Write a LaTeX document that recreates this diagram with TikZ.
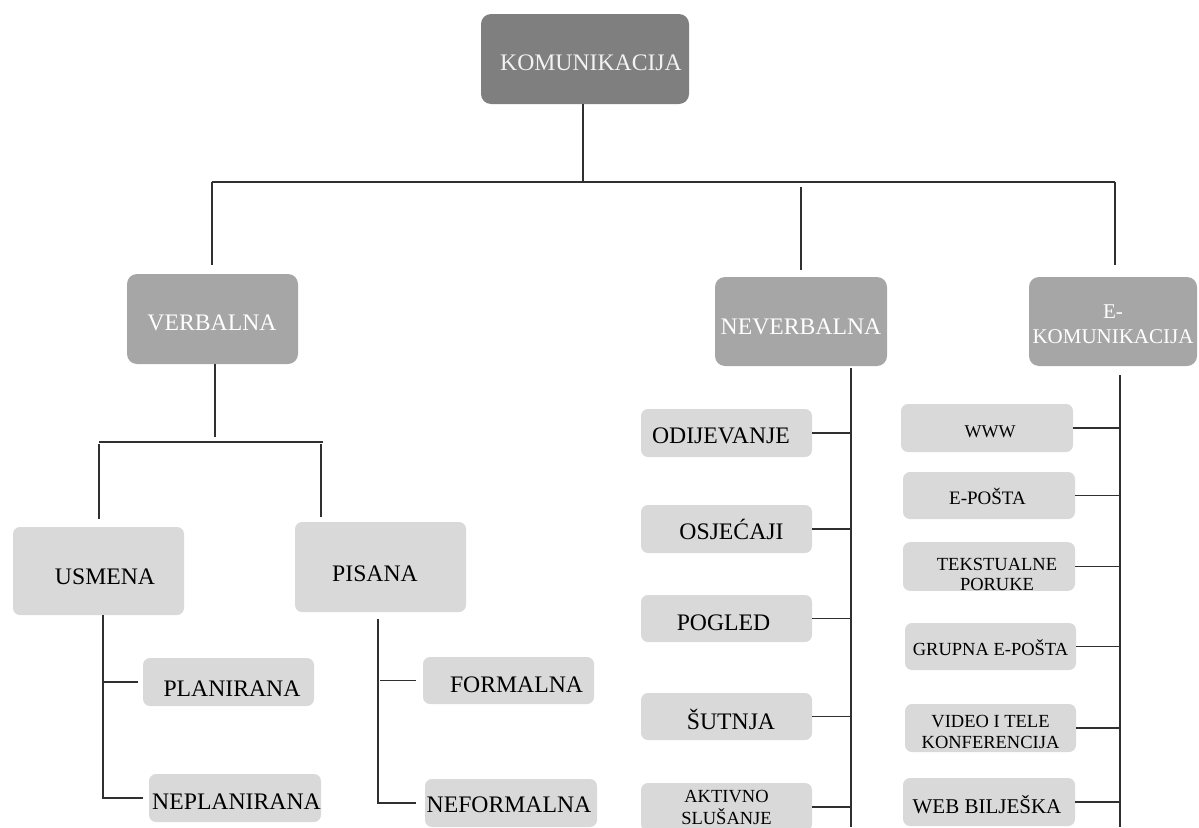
\documentclass[tikz,border=0pt]{standalone}
\usepackage{fontspec}
\setmainfont{Liberation Serif}
\definecolor{topfill}{HTML}{7F7F7F}
\definecolor{midfill}{HTML}{A6A6A6}
\definecolor{leaffill}{HTML}{D9D9D9}
\definecolor{lighttext}{HTML}{F2F2F2}
\definecolor{wire}{HTML}{303030}
\begin{document}
\begin{tikzpicture}[x=1pt,y=-1pt,
  base/.style={inner sep=0pt,text depth=0pt},
  big/.style={base,font=\fontsize{23.7}{26}\selectfont,text height=23.7pt},
  small/.style={base,font=\fontsize{18.5}{20.5}\selectfont,text height=20pt},
  th/.style={text height=#1pt},
  sz/.style 2 args={minimum width=#1pt,minimum height=#2pt},
  mv/.style={execute at begin node={\hspace*{#1pt}}},
  rootbox/.style={fill=topfill,text=lighttext,rounded corners=10pt},
  branch/.style={fill=midfill,text=white,rounded corners=10pt},
  leaf/.style={fill=leaffill,text=black,rounded corners=7pt},
  ln/.style={draw=wire,line width=1.2pt}]
\clip (0,0) rectangle (1199,827);

% root and first level
\node[big,rootbox,sz={208}{90},mv=12] (top) at (585,59) {KOMUNIKACIJA};
\node[big,branch,sz={171}{90},mv=-1] (verb) at (212.5,319) {VERBALNA};
\node[big,branch,sz={172}{89},th=26.7] (never) at (801,321.5) {NEVERBALNA};
\node[branch,sz={168}{89},inner sep=0pt,align=center,
      font=\fontsize{21}{25}\selectfont] (ekom) at (1113,321.5) {\rule{0pt}{19pt}E-\\KOMUNIKACIJA};

% verbal branch
\node[big,leaf,sz={171}{88},th=26.7,mv=13] (usm) at (98.5,571) {USMENA};
\node[big,leaf,sz={171}{90},th=29.7,mv=-11] (pis) at (380.5,567) {PISANA};
\node[big,leaf,sz={171}{48},th=28.7,mv=7] (plan) at (228.5,682) {PLANIRANA};
\node[big,leaf,sz={172}{48},mv=3] (neplan) at (235,798) {NEPLANIRANA};
\node[big,leaf,sz={171}{47},th=24.7,mv=16] (form) at (508.5,680.5) {FORMALNA};
\node[big,leaf,sz={172}{48},th=19.7,mv=-4] (neform) at (511,803) {NEFORMALNA};

% non-verbal branch
\node[big,leaf,sz={171}{48},th=21.7,mv=-11] (odij) at (726.5,433) {ODIJEVANJE};
\node[big,leaf,sz={171}{48},th=21.7,mv=10] (osj) at (726.5,529) {OSJEĆAJI};
\node[big,leaf,sz={171}{47},th=24.7,mv=-6] (pogled) at (726.5,618.5) {POGLED};
\node[big,leaf,sz={171}{47},th=25.7,mv=9] (sut) at (726.5,716.5) {ŠUTNJA};
\node[leaf,sz={171}{48},inner sep=0pt,align=center,
      font=\fontsize{18.5}{22}\selectfont] (akt) at (726.5,807) {\rule{0pt}{14pt}AKTIVNO\\SLUŠANJE};

% e-communication branch
\node[small,leaf,sz={172}{48},th=19.9,mv=6,font=\fontsize{18}{20}\selectfont] (www) at (987,428) {WWW};
\node[small,leaf,sz={172}{47},th=17.6,mv=-3,font=\fontsize{19}{21}\selectfont] (epos) at (989,495.5) {E-POŠTA};
\node[leaf,sz={172}{47},inner sep=0pt,align=center,
      font=\fontsize{18.5}{20.5}\selectfont] (teks) at (989,566.5) {\rule{0pt}{28pt}\hspace*{16pt}TEKSTUALNE\\\hspace*{16pt}PORUKE};
\node[small,leaf,sz={171}{47},th=17.2] (grup) at (990.5,646.5) {GRUPNA E-POŠTA};
\node[leaf,sz={171}{48},inner sep=0pt,align=center,
      font=\fontsize{18.5}{21}\selectfont] (video) at (990.5,728) {\rule{0pt}{21pt}VIDEO I TELE\\KONFERENCIJA};
\node[leaf,sz={172}{48},base,font=\fontsize{21}{23}\selectfont,th=23.9,mv=-4] (web) at (989,802) {WEB BILJEŠKA};

% main bus under the root
\coordinate (busM) at (583,182);
\coordinate (busL) at (212,182);
\coordinate (busR) at (1115,182);
\draw[ln] (top.south -| busM) -- (busM);
\draw[ln] (busL) -- (busR);
\draw[ln,shorten >=9pt] (busL) -- (busL |- verb.north);
\draw[ln,shorten <=5pt,shorten >=7pt] (busL -| never.north) -- (never.north);
\draw[ln,shorten >=12pt] (busR) -- (busR |- ekom.north);

% verbal bus
\coordinate (vJ) at (215,442);
\coordinate (vL) at (99,442);
\coordinate (vR) at (323,442);
\coordinate (pisTop) at (321,517);
\draw[ln,shorten >=5pt] (verb.south -| vJ) -- (vJ);
\draw[ln] (vL) -- (vR);
\draw[ln,shorten <=2pt,shorten >=8pt] (vL) -- (vL |- usm.north);
\draw[ln,shorten <=2pt] (pisTop |- vR) -- (pisTop);

% spoken and written stems
\coordinate (uS) at (103,798);
\draw[ln,shorten >=6pt] (usm.south -| uS) -- (uS) -- (neplan.west);
\draw[ln,shorten >=5pt] (uS |- plan.west) -- (plan.west);
\coordinate (pS) at (378,803);
\draw[ln,shorten <=7pt,shorten >=9pt] (pis.south -| pS) -- (pS) -- (neform.west);
\draw[ln,shorten <=2pt,shorten >=7pt] (pS |- form.west) -- (form.west);

% non-verbal stem
\coordinate (nS) at (851,827);
\draw[ln,shorten <=2pt] (never.south -| nS) -- (nS);
\foreach \k in {odij,osj,pogled,sut,akt} \draw[ln] (\k.east) -- (\k.east -| nS);

% e-communication stem
\coordinate (eS) at (1120,827);
\draw[ln,shorten <=9pt] (ekom.south -| eS) -- (eS);
\foreach \k in {www,epos,teks,grup,video,web} \draw[ln] (\k.east) -- (\k.east -| eS);
\end{tikzpicture}
\end{document}
